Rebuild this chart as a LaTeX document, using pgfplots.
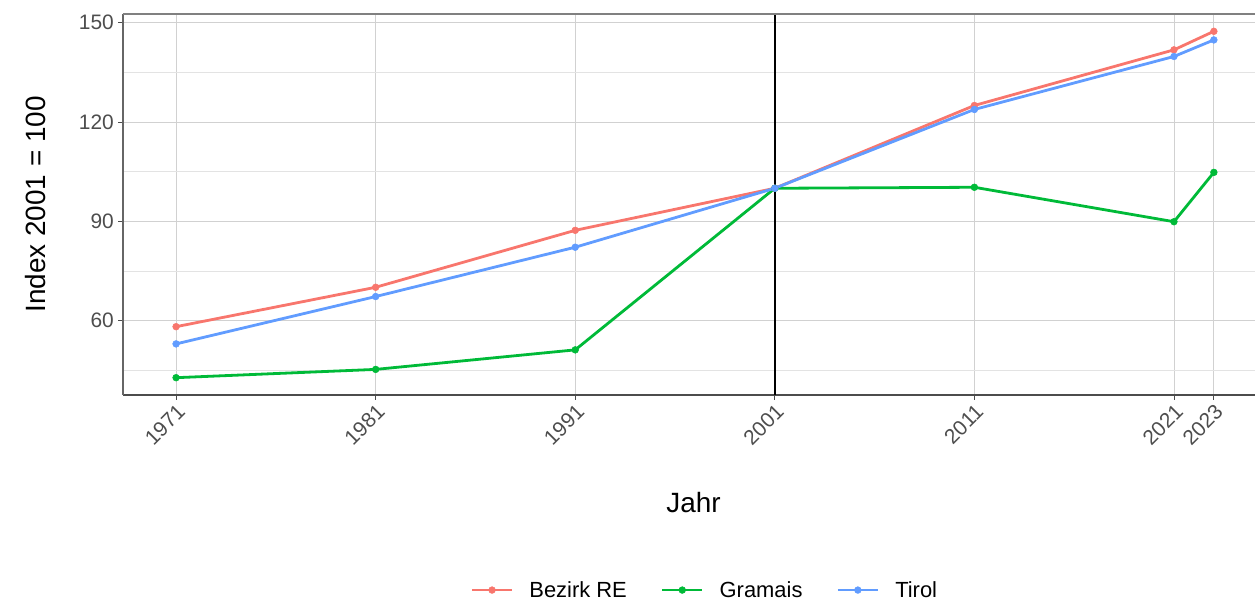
\documentclass[border=0pt]{standalone}
\usepackage{fontspec}
\setmainfont{Liberation Sans}
\usepackage{pgfplots}
\pgfplotsset{compat=1.18}
\definecolor{cRE}{HTML}{F8766D}
\definecolor{cGR}{HTML}{00BA38}
\definecolor{cTI}{HTML}{619CFF}
\definecolor{tickgray}{HTML}{4D4D4D}
\begin{document}
\begin{tikzpicture}[x=1bp,y=1bp]
\useasboundingbox (-123,-205) rectangle (1132,395);
\begin{axis}[
  at={(0,0)}, anchor=south west,
  scale only axis, width=1132bp, height=381bp,
  xmin=1968.34, xmax=2025.06,
  ymin=37.57, ymax=152.63,
  separate axis lines,
  axis x line=bottom, axis y line=left,
  axis line style={-},
  x axis line style={black!70, line width=1.3bp},
  y axis line style={black!60, line width=1.3bp},
  xtick={1971,1981,1991,2001,2011,2021,2023},
  xticklabels={1971,1981,1991,2001,2011,2021,2023},
  ytick={60,90,120,150},
  minor ytick={45,75,105,135},
  grid=both,
  major grid style={black!18, line width=0.9bp},
  minor grid style={black!11, line width=0.9bp},
  tick align=outside,
  xtick pos=bottom, ytick pos=left,
  major tick length=5bp,
  minor tick length=0pt,
  tick style={black!70, line width=0.9bp},
  /pgf/number format/assume math mode=true,
  /pgf/number format/1000 sep={},
  yticklabel style={font=\fontsize{21}{24}\selectfont, text=tickgray, inner sep=4bp},
  xticklabel style={font=\fontsize{21}{24}\selectfont, text=tickgray, rotate=45, anchor=north east, inner sep=2bp},
  every axis y label/.style={at={(axis description cs:-0.0777,0.5)}, rotate=90, anchor=center, font=\fontsize{28}{32}\selectfont},
  every axis x label/.style={at={(axis description cs:0.504,-0.281)}, anchor=center, font=\fontsize{28}{32}\selectfont},
  ylabel={Index 2001 = 100},
  xlabel={Jahr},
  legend columns=3,
  legend style={at={(axis description cs:0.514,-0.512)}, anchor=center, draw=none, fill=none,
    font=\fontsize{22}{26}\selectfont,
    /tikz/every odd column/.append style={column sep=14bp},
    /tikz/every even column/.append style={column sep=32bp}},
  legend cell align=left,
  legend image code/.code={\draw[mark repeat=2,mark phase=2,#1] plot coordinates {(0bp,0bp) (20bp,0bp) (40bp,0bp)};},
  every axis plot/.append style={line width=2.8bp, mark=*, mark size=3.4bp},
]
\addplot[cRE, mark options={fill=cRE, draw=cRE, line width=0.5bp}] coordinates {
 (1971,58.2) (1981,70.1) (1991,87.3) (2001,100) (2011,125.0) (2021,141.8) (2023,147.4)};
\addlegendentry{Bezirk RE}
\addplot[cGR, mark options={fill=cGR, draw=cGR, line width=0.5bp}] coordinates {
 (1971,42.8) (1981,45.3) (1991,51.2) (2001,100) (2011,100.3) (2021,89.9) (2023,104.8)};
\addlegendentry{Gramais}
\addplot[cTI, mark options={fill=cTI, draw=cTI, line width=0.5bp}] coordinates {
 (1971,53.0) (1981,67.3) (1991,82.2) (2001,100) (2011,123.8) (2021,139.8) (2023,144.8)};
\addlegendentry{Tirol}
\draw[black, line width=1.8bp] (axis cs:2001,37.57) -- (axis cs:2001,152.63);
\draw[black!50, line width=1.3bp] (rel axis cs:0,1) -- (rel axis cs:1,1);
\end{axis}
\end{tikzpicture}
\end{document}
